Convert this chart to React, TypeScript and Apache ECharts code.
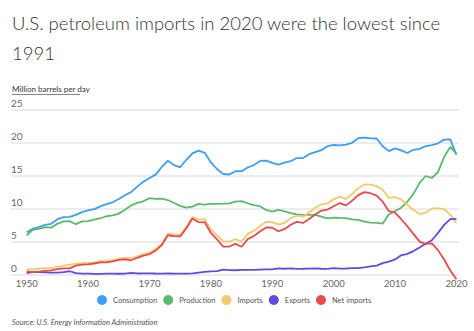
import React, { useEffect, useRef } from "react";
import * as echarts from "echarts";

const years: number[] = [];
for (let y = 1950; y <= 2020; y++) years.push(y);

const consumption = [
  6.46, 7.02, 7.27, 7.6, 7.76, 8.46, 8.78, 8.81, 9.12, 9.53,
  9.8, 9.98, 10.4, 10.74, 11.02, 11.51, 12.08, 12.56, 13.39, 14.14,
  14.7, 15.21, 16.37, 17.31, 16.65, 16.32, 17.46, 18.43, 18.85, 18.51,
  17.06, 16.06, 15.3, 15.23, 15.73, 15.73, 16.28, 16.67, 17.28, 17.33,
  16.99, 16.71, 17.03, 17.24, 17.72, 17.72, 18.31, 18.62, 18.92, 19.52,
  19.7, 19.65, 19.76, 20.03, 20.73, 20.8, 20.69, 20.68, 19.5, 18.77,
  19.18, 18.88, 18.49, 18.97, 19.11, 19.53, 19.69, 19.96, 20.51, 20.54,
  18.19,
];

const production = [
  6.0, 6.85, 7.0, 7.25, 7.18, 7.75, 8.13, 8.17, 7.7, 8.13,
  8.17, 8.4, 8.6, 8.9, 9.03, 9.3, 9.88, 10.53, 10.93, 11.17,
  11.65, 11.52, 11.57, 11.36, 10.91, 10.47, 10.22, 10.37, 10.77, 10.65,
  10.77, 10.77, 10.8, 10.85, 11.13, 11.2, 10.87, 10.58, 10.43, 9.85,
  9.6, 9.85, 9.64, 9.39, 9.17, 9.1, 9.1, 9.1, 8.86, 8.58,
  8.7, 8.65, 8.63, 8.44, 8.35, 8.1, 7.95, 7.9, 7.8, 9.2,
  9.7, 10.2, 11.1, 12.3, 13.95, 15.0, 14.7, 15.6, 17.9, 19.4,
  18.4,
];

const imports = [
  0.85, 0.844, 0.952, 1.034, 1.052, 1.248, 1.436, 1.574, 1.7, 1.78,
  1.815, 1.917, 2.082, 2.123, 2.259, 2.468, 2.573, 2.537, 2.84, 3.166,
  3.419, 3.926, 4.741, 6.256, 6.112, 6.056, 7.313, 8.807, 8.363, 8.456,
  6.909, 5.996, 5.113, 5.051, 5.437, 5.067, 6.224, 6.678, 7.402, 8.061,
  8.018, 7.627, 7.888, 8.62, 8.996, 8.835, 9.478, 10.162, 10.708, 10.852,
  11.459, 11.871, 11.53, 12.264, 13.145, 13.714, 13.707, 13.468, 12.915, 11.691,
  11.793, 11.436, 10.598, 9.859, 9.241, 9.449, 10.055, 10.144, 9.943, 9.141,
  7.863,
];

const exportsData = [
  0.305, 0.422, 0.432, 0.402, 0.356, 0.368, 0.43, 0.568, 0.276, 0.211,
  0.202, 0.174, 0.168, 0.208, 0.202, 0.187, 0.198, 0.307, 0.231, 0.233,
  0.259, 0.224, 0.222, 0.231, 0.221, 0.209, 0.223, 0.243, 0.362, 0.471,
  0.544, 0.595, 0.815, 0.739, 0.722, 0.781, 0.785, 0.764, 0.815, 0.859,
  0.857, 1.001, 0.95, 1.003, 0.942, 0.949, 0.981, 1.003, 0.945, 0.94,
  1.04, 0.971, 0.984, 1.027, 1.048, 1.165, 1.317, 1.433, 1.802, 2.024,
  2.353, 2.986, 3.205, 3.621, 4.176, 4.738, 5.261, 6.376, 7.601, 8.471,
  8.512,
];

const netImports = [
  0.545, 0.422, 0.52, 0.632, 0.696, 0.88, 1.006, 1.006, 1.424, 1.569,
  1.613, 1.743, 1.914, 1.915, 2.057, 2.281, 2.375, 2.23, 2.609, 2.933,
  3.16, 3.702, 4.519, 6.025, 5.891, 5.846, 7.09, 8.564, 8.001, 7.985,
  6.365, 5.401, 4.298, 4.312, 4.715, 4.286, 5.439, 5.914, 6.587, 7.202,
  7.161, 6.626, 6.938, 7.618, 8.054, 7.886, 8.498, 9.158, 9.764, 9.912,
  10.419, 10.9, 10.546, 11.238, 12.097, 12.549, 12.39, 12.036, 11.114, 9.667,
  9.441, 8.45, 7.393, 6.237, 5.065, 4.711, 4.794, 3.768, 2.342, 0.67,
  -0.649,
];

const xTickLabels = [1950, 1960, 1970, 1980, 1990, 2000, 2010, 2020];

const seriesNames = ["Consumption", "Production", "Imports", "Exports", "Net imports"];
const seriesColors = ["#3d9ef5", "#58bb6b", "#f2c96b", "#6549df", "#e94a4d"];
const seriesValues = [consumption, production, imports, exportsData, netImports];

export default function App() {
  const ref = useRef<HTMLDivElement>(null);
  useEffect(() => {
    if (!ref.current) return;
    const chart = echarts.init(ref.current, undefined, { renderer: "svg" });
    const font = "Lato, 'Noto Sans', sans-serif";
    chart.setOption({
      animation: false,
      textStyle: { fontFamily: font },
      grid: { left: 11, right: 15, top: 110, bottom: 56, containLabel: false },
      xAxis: {
        type: "value",
        min: 1947.44,
        max: 2020.42,
        axisLine: { show: false },
        axisTick: { show: false },
        splitLine: { show: false },
        axisLabel: {
          customValues: xTickLabels,
          color: "#666",
          fontSize: 9.5,
          margin: 3,
          fontFamily: font,
          formatter: (v: number) => String(v),
        },
      },
      yAxis: {
        type: "value",
        min: 0,
        max: 25,
        interval: 5,
        axisLine: { show: false },
        axisTick: { show: false },
        axisLabel: {
          inside: true,
          verticalAlign: "bottom",
          margin: 0,
          padding: [0, 0, 2, 0],
          color: "#666",
          fontSize: 10,
          fontFamily: font,
        },
        splitLine: { lineStyle: { color: "#e6e6e6", width: 1.5 } },
      },
      legend: {
        left: 92,
        top: 290,
        icon: "circle",
        itemWidth: 10,
        itemHeight: 10,
        itemGap: 6,
        textStyle: { color: "#555", fontSize: 7.5, fontFamily: font, padding: [0, 0, 0, 1] },
        data: seriesNames,
      },
      series: seriesNames.map((name, i) => ({
        name,
        type: "line",
        clip: false,
        showSymbol: false,
        symbol: "none",
        color: seriesColors[i],
        lineStyle: { width: 1.8, color: seriesColors[i] },
        data: years.map((y, j) => [y, seriesValues[i][j]]),
      })),
      graphic: [
        {
          type: "text",
          left: 12,
          top: 8,
          style: {
            text: "U.S. petroleum imports in 2020 were the lowest since\n1991",
            fontSize: 18.5,
            fontWeight: 300,
            lineHeight: 30,
            fontFamily: font,
            fill: "#333",
          },
        },
        {
          type: "text",
          left: 12,
          top: 85,
          style: {
            text: "Million barrels per day",
            fontSize: 8,
            fontFamily: font,
            fill: "#333",
          },
        },
        {
          type: "line",
          shape: { x1: 12, y1: 94.5, x2: 80, y2: 94.5 },
          style: { stroke: "#555", lineWidth: 0.7 },
        },
        {
          type: "text",
          left: 12,
          top: 318,
          style: {
            text: "Source: U.S. Energy Information Administration",
            fontSize: 7.5,
            fontStyle: "italic",
            fontFamily: font,
            fill: "#555",
          },
        },
      ],
    });
    return () => chart.dispose();
  }, []);
  return (
    <div
      ref={ref}
      style={{ position: "absolute", left: 0, top: 0, width: 474, height: 331 }}
    />
  );
}
